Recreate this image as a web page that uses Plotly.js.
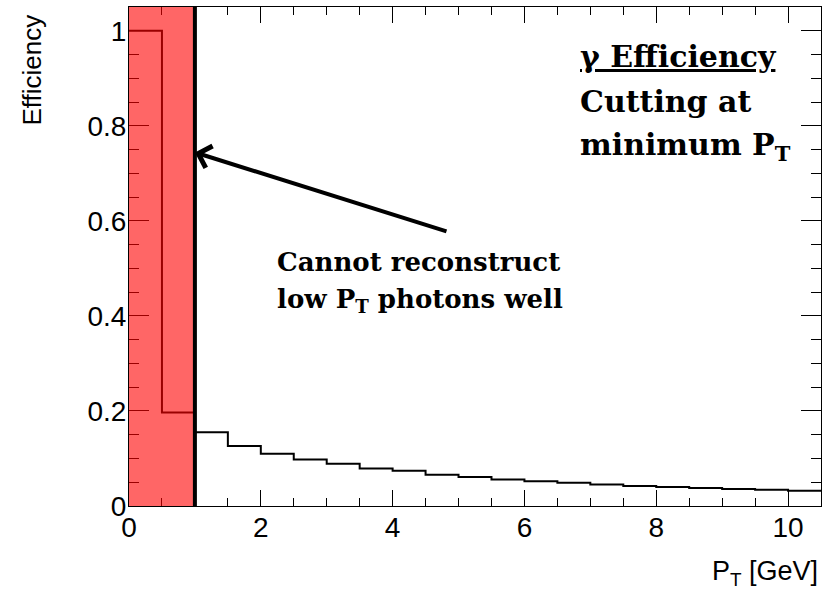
<!DOCTYPE html>
<html>
<head>
<meta charset="utf-8">
<script src="https://cdn.plot.ly/plotly-3.0.1.min.js"></script>
<style>html,body{margin:0;padding:0;background:#fff;}#chart{width:827px;height:591px;}</style>
</head>
<body>
<div id="chart"></div>
<script>
// Histogram bins (lower edges, GeV) and their efficiency values
const binLowEdges = [0, 0.5, 1, 1.5, 2, 2.5, 3, 3.5, 4, 4.5, 5, 5.5, 6, 6.5, 7, 7.5, 8, 8.5, 9, 9.5, 10];
const binUpperEdge = 10.5;
const efficiency = [1.0, 0.197, 0.155, 0.126, 0.110, 0.098, 0.089, 0.079, 0.074, 0.066, 0.061,
                    0.056, 0.052, 0.049, 0.045, 0.042, 0.040, 0.038, 0.036, 0.034, 0.032];
// Minimum PT cut
const cutPt = 1.0;
// Tick labels
const xTickVals = [0, 2, 4, 6, 8, 10];
const xTickText = ["0", "2", "4", "6", "8", "10"];
const yTickVals = [0, 0.2, 0.4, 0.6, 0.8, 1];
const yTickText = ["0", "0.2", "0.4", "0.6", "0.8", "1"];

const xs = binLowEdges.concat([binUpperEdge]);
const ys = efficiency.concat([efficiency[efficiency.length - 1]]);

const sans = "Liberation Sans, Arial, sans-serif";
const serif = "DejaVu Serif, Liberation Serif, serif";

const W = 827, H = 591, ML = 129, MR = 6, MT = 7, MB = 85;
const PW = W - ML - MR, PH = H - MT - MB;
const px = v => (v - ML) / PW;
const py = v => (H - MB - v) / PH;

const trace = {
  x: xs, y: ys, type: 'scatter', mode: 'lines',
  line: {shape: 'hv', color: '#000', width: 2},
  hoverinfo: 'skip', showlegend: false
};

const axisCommon = {
  showgrid: false, zeroline: false, showline: true, linecolor: '#000', linewidth: 1,
  mirror: 'ticks', ticks: 'inside', tickcolor: '#000', tickwidth: 1,
  tickfont: {family: sans, size: 28, color: '#000'}
};

const layout = {
  width: W, height: H,
  margin: {l: ML, r: MR, t: MT, b: MB},
  paper_bgcolor: '#fff', plot_bgcolor: '#fff',
  showlegend: false,
  xaxis: Object.assign({}, axisCommon, {
    range: [0, binUpperEdge], tickmode: 'array', tickvals: xTickVals, ticktext: xTickText,
    ticklen: 16, ticklabelstandoff: -4,
    minor: {dtick: 0.5, tick0: 0, ticks: 'inside', ticklen: 8, tickcolor: '#000', tickwidth: 1, showgrid: false}
  }),
  yaxis: Object.assign({}, axisCommon, {
    range: [0, 1.05], tickmode: 'array', tickvals: yTickVals, ticktext: yTickText,
    ticklen: 20, ticklabelstandoff: -4,
    minor: {dtick: 0.05, tick0: 0, ticks: 'inside', ticklen: 10, tickcolor: '#000', tickwidth: 1, showgrid: false}
  }),
  shapes: [
    {type: 'rect', xref: 'x', yref: 'paper', x0: 0, x1: cutPt, y0: 0, y1: 1,
     fillcolor: 'rgba(255,0,0,0.6)', line: {width: 0}, layer: 'above'},
    {type: 'line', xref: 'x', yref: 'paper', x0: cutPt, x1: cutPt, y0: 0, y1: 1,
     line: {color: '#000', width: 4}, layer: 'above'}
  ],
  annotations: [
    // y-axis title
    {xref: 'paper', yref: 'paper', x: px(31), y: py(12), xanchor: 'center', yanchor: 'top',
     text: 'Efficiency', textangle: -90, showarrow: false,
     font: {family: sans, size: 26, color: '#000'}},
    // x-axis title
    {xref: 'paper', yref: 'paper', x: px(820), y: py(573), xanchor: 'right', yanchor: 'middle',
     text: 'P<sub>T</sub> [GeV]', showarrow: false,
     font: {family: sans, size: 27, color: '#000'}},
    // top-right note
    {xref: 'paper', yref: 'paper', x: px(578), y: py(57), xanchor: 'left', yanchor: 'middle',
     text: '<b><u>γ Efficiency</u></b>', showarrow: false,
     font: {family: serif, size: 30, color: '#000'}},
    {xref: 'paper', yref: 'paper', x: px(578), y: py(102), xanchor: 'left', yanchor: 'middle',
     text: '<b>Cutting at</b>', showarrow: false,
     font: {family: serif, size: 30, color: '#000'}},
    {xref: 'paper', yref: 'paper', x: px(578), y: py(147), xanchor: 'left', yanchor: 'middle',
     text: '<b>minimum P<sub>T</sub></b>', showarrow: false,
     font: {family: serif, size: 30, color: '#000'}},
    // middle note
    {xref: 'paper', yref: 'paper', x: px(275), y: py(262), xanchor: 'left', yanchor: 'middle',
     text: '<b>Cannot reconstruct</b>', showarrow: false,
     font: {family: serif, size: 26, color: '#000'}},
    {xref: 'paper', yref: 'paper', x: px(275), y: py(300), xanchor: 'left', yanchor: 'middle',
     text: '<b>low P<sub>T</sub> photons well</b>', showarrow: false,
     font: {family: serif, size: 26, color: '#000'}},
    // arrow
    {xref: 'x', yref: 'y', x: cutPt, y: 0.744, axref: 'x', ayref: 'y', ax: 4.84, ay: 0.577,
     text: '', showarrow: true, arrowhead: 4, arrowsize: 1.1, arrowwidth: 4, arrowcolor: '#000', standoff: 0}
  ]
};

Plotly.newPlot('chart', [trace], layout, {displayModeBar: false, staticPlot: true});
</script>
</body>
</html>
